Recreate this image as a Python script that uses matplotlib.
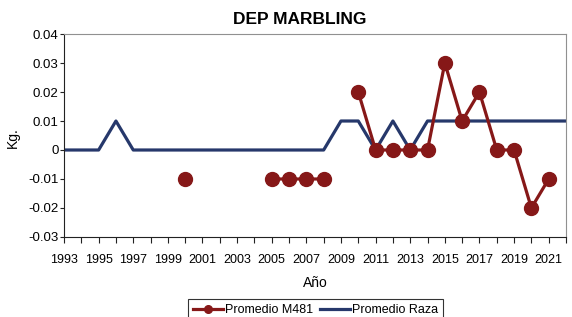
import numpy as np
from matplotlib import pyplot as plt

plt.rcParams['font.family'] = ['Liberation Sans', 'DejaVu Sans']

years = list(range(1993, 2023))
# Promedio M481 (NaN = sin dato)
m481 = [np.nan, np.nan, np.nan, np.nan, np.nan, np.nan, np.nan, -0.01,
        np.nan, np.nan, np.nan, np.nan, -0.01, -0.01, -0.01, -0.01,
        np.nan, 0.02, 0.0, 0.0, 0.0, 0.0, 0.03, 0.01, 0.02, 0.0, 0.0,
        -0.02, -0.01, np.nan]
# Promedio Raza
raza = [0, 0, 0, 0.01, 0, 0, 0, 0, 0, 0, 0, 0, 0, 0, 0, 0,
        0.01, 0.01, 0, 0.01, 0, 0.01, 0.01, 0.01, 0.01, 0.01, 0.01,
        0.01, 0.01, 0.01]
yticks = [-0.03, -0.02, -0.01, 0, 0.01, 0.02, 0.03, 0.04]
ytick_labels = ["-0.03", "-0.02", "-0.01", "0", "0.01", "0.02", "0.03", "0.04"]

red = "#861818"
blue = "#26386b"

fig = plt.figure(figsize=(5.72, 3.17), dpi=100)
ax = fig.add_axes([0.1119, 0.2524, 0.8776, 0.6403])

ax.plot(years, raza, color=blue, lw=2.3, label="Promedio Raza", zorder=2)
ax.plot(years, m481, color=red, lw=2.3, marker="o", markersize=10,
        label="Promedio M481", zorder=3)

ax.set_xlim(1993, 2022)
ax.set_ylim(-0.03, 0.04)
ax.set_xticks(years)
ax.set_xticklabels([str(y) if (y - 1993) % 2 == 0 else "" for y in years])
ax.set_yticks(yticks)
ax.set_yticklabels(ytick_labels)
ax.tick_params(direction="out", width=0.8, color="#222222")
ax.tick_params(axis="x", length=4, pad=8, labelsize=9)
ax.tick_params(axis="y", length=3, pad=1, labelsize=9.5)

for s in ["top", "right"]:
    ax.spines[s].set_color("#909090")
for s in ["left", "bottom"]:
    ax.spines[s].set_color("#222222")

fig.text(0.524, 0.94, "DEP MARBLING", ha="center", va="center",
         fontsize=12.5, fontweight="bold")
fig.text(0.022, 0.565, "Kg.", ha="center", va="center", rotation=90,
         fontsize=10)
fig.text(0.551, 0.107, "Año", ha="center", va="center", fontsize=10)

handles, labels = ax.get_legend_handles_labels()
leg = fig.legend(handles[::-1], labels[::-1], loc="upper center",
                 bbox_to_anchor=(0.552, 1 - 293 / 317), ncol=2,
                 fontsize=9, frameon=True, fancybox=False,
                 edgecolor="black", handlelength=2.4, columnspacing=0.5,
                 handletextpad=0.2, borderpad=0.4, markerscale=0.55)
leg.get_frame().set_linewidth(0.8)

fig.savefig("out.png", dpi=100)
